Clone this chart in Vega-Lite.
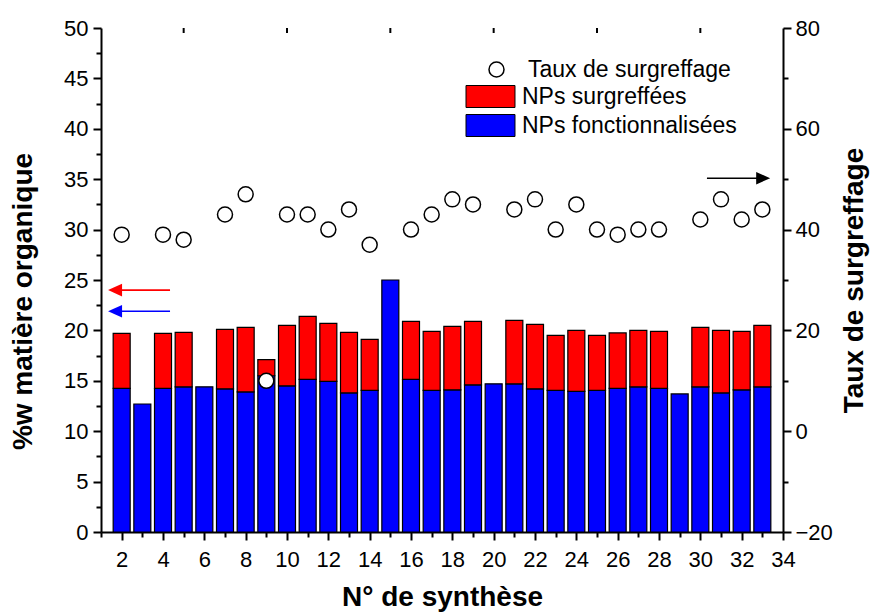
{
  "$schema": "https://vega.github.io/schema/vega-lite/v6.json",
  "width": 682,
  "height": 504,
  "autosize": "none",
  "padding": {"left": 101, "top": 28, "right": 90, "bottom": 80},
  "background": "white",
  "datasets": {
    "bars": [
      {"n": 2, "type": "NPs fonctionnalisées", "value": 14.25}, {"n": 2, "type": "NPs surgreffées", "value": 5.45},
      {"n": 3, "type": "NPs fonctionnalisées", "value": 12.7},
      {"n": 4, "type": "NPs fonctionnalisées", "value": 14.25}, {"n": 4, "type": "NPs surgreffées", "value": 5.45},
      {"n": 5, "type": "NPs fonctionnalisées", "value": 14.4}, {"n": 5, "type": "NPs surgreffées", "value": 5.4},
      {"n": 6, "type": "NPs fonctionnalisées", "value": 14.4},
      {"n": 7, "type": "NPs fonctionnalisées", "value": 14.2}, {"n": 7, "type": "NPs surgreffées", "value": 5.9},
      {"n": 8, "type": "NPs fonctionnalisées", "value": 13.9}, {"n": 8, "type": "NPs surgreffées", "value": 6.4},
      {"n": 9, "type": "NPs fonctionnalisées", "value": 15.5}, {"n": 9, "type": "NPs surgreffées", "value": 1.6},
      {"n": 10, "type": "NPs fonctionnalisées", "value": 14.5}, {"n": 10, "type": "NPs surgreffées", "value": 6.0},
      {"n": 11, "type": "NPs fonctionnalisées", "value": 15.15}, {"n": 11, "type": "NPs surgreffées", "value": 6.25},
      {"n": 12, "type": "NPs fonctionnalisées", "value": 14.95}, {"n": 12, "type": "NPs surgreffées", "value": 5.75},
      {"n": 13, "type": "NPs fonctionnalisées", "value": 13.8}, {"n": 13, "type": "NPs surgreffées", "value": 6.0},
      {"n": 14, "type": "NPs fonctionnalisées", "value": 14.05}, {"n": 14, "type": "NPs surgreffées", "value": 5.05},
      {"n": 15, "type": "NPs fonctionnalisées", "value": 25.0},
      {"n": 16, "type": "NPs fonctionnalisées", "value": 15.15}, {"n": 16, "type": "NPs surgreffées", "value": 5.75},
      {"n": 17, "type": "NPs fonctionnalisées", "value": 14.05}, {"n": 17, "type": "NPs surgreffées", "value": 5.85},
      {"n": 18, "type": "NPs fonctionnalisées", "value": 14.1}, {"n": 18, "type": "NPs surgreffées", "value": 6.3},
      {"n": 19, "type": "NPs fonctionnalisées", "value": 14.6}, {"n": 19, "type": "NPs surgreffées", "value": 6.3},
      {"n": 20, "type": "NPs fonctionnalisées", "value": 14.7},
      {"n": 21, "type": "NPs fonctionnalisées", "value": 14.7}, {"n": 21, "type": "NPs surgreffées", "value": 6.3},
      {"n": 22, "type": "NPs fonctionnalisées", "value": 14.2}, {"n": 22, "type": "NPs surgreffées", "value": 6.4},
      {"n": 23, "type": "NPs fonctionnalisées", "value": 14.05}, {"n": 23, "type": "NPs surgreffées", "value": 5.45},
      {"n": 24, "type": "NPs fonctionnalisées", "value": 13.95}, {"n": 24, "type": "NPs surgreffées", "value": 6.05},
      {"n": 25, "type": "NPs fonctionnalisées", "value": 14.05}, {"n": 25, "type": "NPs surgreffées", "value": 5.45},
      {"n": 26, "type": "NPs fonctionnalisées", "value": 14.25}, {"n": 26, "type": "NPs surgreffées", "value": 5.5},
      {"n": 27, "type": "NPs fonctionnalisées", "value": 14.4}, {"n": 27, "type": "NPs surgreffées", "value": 5.6},
      {"n": 28, "type": "NPs fonctionnalisées", "value": 14.25}, {"n": 28, "type": "NPs surgreffées", "value": 5.65},
      {"n": 29, "type": "NPs fonctionnalisées", "value": 13.7},
      {"n": 30, "type": "NPs fonctionnalisées", "value": 14.4}, {"n": 30, "type": "NPs surgreffées", "value": 5.9},
      {"n": 31, "type": "NPs fonctionnalisées", "value": 13.8}, {"n": 31, "type": "NPs surgreffées", "value": 6.2},
      {"n": 32, "type": "NPs fonctionnalisées", "value": 14.1}, {"n": 32, "type": "NPs surgreffées", "value": 5.8},
      {"n": 33, "type": "NPs fonctionnalisées", "value": 14.4}, {"n": 33, "type": "NPs surgreffées", "value": 6.1}
    ],
    "taux": [
      {"n": 2, "taux": 39}, {"n": 4, "taux": 39}, {"n": 5, "taux": 38}, {"n": 7, "taux": 43}, {"n": 8, "taux": 47},
      {"n": 9, "taux": 10}, {"n": 10, "taux": 43}, {"n": 11, "taux": 43}, {"n": 12, "taux": 40}, {"n": 13, "taux": 44},
      {"n": 14, "taux": 37}, {"n": 16, "taux": 40}, {"n": 17, "taux": 43}, {"n": 18, "taux": 46}, {"n": 19, "taux": 45},
      {"n": 21, "taux": 44}, {"n": 22, "taux": 46}, {"n": 23, "taux": 40}, {"n": 24, "taux": 45}, {"n": 25, "taux": 40},
      {"n": 26, "taux": 39}, {"n": 27, "taux": 40}, {"n": 28, "taux": 40}, {"n": 30, "taux": 42}, {"n": 31, "taux": 46},
      {"n": 32, "taux": 42}, {"n": 33, "taux": 44}
    ],
    "fleches": [
      {"id": "rouge", "x": 1.68, "x2": 4.34, "y": 24.0},
      {"id": "bleu", "x": 1.68, "x2": 4.34, "y": 21.9},
      {"id": "noir", "x": 30.32, "x2": 33.04, "y": 35.1}
    ],
    "graduations_haut": [
      {"t": 5}, {"t": 10}, {"t": 15}, {"t": 20}, {"t": 25}, {"t": 30}
    ]
  },
  "layer": [
    {
      "data": {"name": "bars"},
      "mark": {"type": "bar", "size": 17, "stroke": "black", "strokeWidth": 1.2, "opacity": 1},
      "encoding": {
        "x": {
          "field": "n", "type": "quantitative",
          "scale": {"domain": [1, 34], "nice": false, "zero": false, "padding": 0},
          "title": "N° de synthèse",
          "axis": {
            "orient": "bottom",
            "values": [1,2,3,4,5,6,7,8,9,10,11,12,13,14,15,16,17,18,19,20,21,22,23,24,25,26,27,28,29,30,31,32,33,34],
            "labelExpr": "datum.value % 2 === 0 ? datum.label : ''",
            "tickSize": {"condition": {"test": "datum.value % 2 === 0", "value": 8}, "value": 5},
            "labelFlush": false,
            "labelOverlap": false,
            "labelPadding": 9,
            "titlePadding": 13
          }
        },
        "y": {
          "field": "value", "type": "quantitative", "stack": "zero",
          "scale": {"domain": [0, 50], "nice": false},
          "title": "%w matière organique",
          "axis": {
            "orient": "left",
            "values": [0,2.5,5,7.5,10,12.5,15,17.5,20,22.5,25,27.5,30,32.5,35,37.5,40,42.5,45,47.5,50],
            "labelExpr": "datum.value % 5 === 0 ? datum.label : ''",
            "tickSize": {"condition": {"test": "datum.value % 5 === 0", "value": 8}, "value": 5},
            "labelOverlap": false,
            "labelPadding": 5,
            "titlePadding": 26,
            "titleY": 273
          }
        },
        "fill": {
          "field": "type", "type": "nominal",
          "scale": {"domain": ["NPs surgreffées", "NPs fonctionnalisées"], "range": ["#FF0000", "#0000FF"]},
          "legend": {
            "orient": "none", "legendX": 378, "legendY": 57, "title": null,
            "symbolType": "M-2.227,-1H2.227V1H-2.227Z", "symbolSize": 484,
            "symbolStrokeColor": "black", "symbolStrokeWidth": 1, "symbolOpacity": 1,
            "labelOffset": 20, "rowPadding": 2, "padding": 0, "labelFontSize": 23
          }
        },
        "order": {"field": "type", "sort": "ascending"}
      }
    },
    {
      "mark": {"type": "rule", "strokeWidth": 2, "color": "black"},
      "encoding": {
        "y": {"datum": 50, "type": "quantitative", "scale": {"domain": [0, 50], "nice": false}, "axis": null}
      }
    },
    {
      "data": {"name": "graduations_haut"},
      "mark": {"type": "tick", "orient": "vertical", "size": 10, "thickness": 2, "color": "black", "opacity": 1, "clip": true},
      "encoding": {
        "x": {"field": "t", "type": "quantitative", "scale": {"domain": [1, 34], "nice": false, "zero": false, "padding": 0}, "axis": null},
        "y": {"datum": 50, "type": "quantitative", "scale": {"domain": [0, 50], "nice": false}, "axis": null}
      }
    },
    {
      "data": {"name": "fleches"},
      "mark": {"type": "rule", "strokeWidth": 1.6},
      "encoding": {
        "x": {"field": "x", "type": "quantitative", "scale": {"domain": [1, 34], "nice": false, "zero": false, "padding": 0}, "axis": null},
        "x2": {"field": "x2"},
        "y": {"field": "y", "type": "quantitative", "scale": {"domain": [0, 50], "nice": false}, "axis": null},
        "color": {"field": "id", "type": "nominal", "scale": {"domain": ["rouge", "bleu", "noir"], "range": ["#FF0000", "#0000FF", "#000000"]}, "legend": null}
      }
    },
    {
      "data": {"name": "fleches"},
      "transform": [{"filter": "datum.id !== 'noir'"}],
      "mark": {"type": "point", "shape": "M-1,0L1,-0.9L1,0.9Z", "filled": true, "size": 196, "opacity": 1, "strokeWidth": 0},
      "encoding": {
        "x": {"field": "x", "type": "quantitative", "scale": {"domain": [1, 34], "nice": false, "zero": false, "padding": 0}, "axis": null},
        "y": {"field": "y", "type": "quantitative", "scale": {"domain": [0, 50], "nice": false}, "axis": null},
        "color": {"field": "id", "type": "nominal", "legend": null}
      }
    },
    {
      "data": {"name": "fleches"},
      "transform": [{"filter": "datum.id === 'noir'"}],
      "mark": {"type": "point", "shape": "M1,0L-1,-0.9L-1,0.9Z", "filled": true, "size": 196, "opacity": 1, "strokeWidth": 0},
      "encoding": {
        "x": {"field": "x2", "type": "quantitative", "scale": {"domain": [1, 34], "nice": false, "zero": false, "padding": 0}, "axis": null},
        "y": {"field": "y", "type": "quantitative", "scale": {"domain": [0, 50], "nice": false}, "axis": null},
        "color": {"field": "id", "type": "nominal", "legend": null}
      }
    },
    {
      "data": {"name": "taux"},
      "mark": {"type": "point", "filled": true, "fill": "white", "stroke": "black", "strokeWidth": 1.5, "size": 225, "opacity": 1},
      "encoding": {
        "x": {
          "field": "n", "type": "quantitative",
          "scale": {"domain": [1, 34], "nice": false, "zero": false, "padding": 0},
          "axis": null
        },
        "y": {
          "field": "taux", "type": "quantitative",
          "scale": {"domain": [-20, 80], "nice": false, "zero": false},
          "axis": {
            "orient": "right",
            "title": "Taux de surgreffage",
            "titleAngle": -90,
            "titleBaseline": "top",
            "values": [-20,-10,0,10,20,30,40,50,60,70,80],
            "labelExpr": "datum.value % 20 === 0 ? datum.label : ''",
            "tickSize": {"condition": {"test": "datum.value % 20 === 0", "value": 8}, "value": 5},
            "labelOverlap": false,
            "labelPadding": 4,
            "titlePadding": 8
          }
        },
        "shape": {
          "datum": "Taux de surgreffage",
          "scale": {"range": ["circle"]},
          "legend": {
            "orient": "none", "legendX": 384, "legendY": 30, "title": null,
            "symbolSize": 225, "symbolOpacity": 1,
            "labelOffset": 20, "padding": 0, "labelFontSize": 23,
            "encode": {"symbols": {"update": {"fill": {"value": "white"}, "stroke": {"value": "black"}, "strokeWidth": {"value": 1.5}, "opacity": {"value": 1}}}}
          }
        }
      }
    }
  ],
  "resolve": {"scale": {"x": "independent", "y": "independent"}},
  "config": {
    "view": {"stroke": null},
    "font": "Liberation Sans",
    "axis": {
      "grid": false,
      "domainColor": "black", "domainWidth": 2,
      "tickColor": "black", "tickWidth": 2,
      "labelColor": "black", "labelFont": "Liberation Sans", "labelFontSize": 22,
      "titleColor": "black", "titleFont": "Liberation Sans", "titleFontSize": 28, "titleFontWeight": "bold"
    },
    "legend": {
      "labelFont": "Liberation Sans", "labelFontSize": 23, "labelColor": "black", "labelLimit": 400
    }
  }
}
